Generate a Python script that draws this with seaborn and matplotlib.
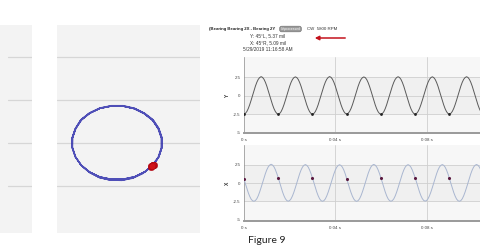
import numpy as np
import pandas as pd
import matplotlib
matplotlib.use("Agg")
import matplotlib.pyplot as plt
import seaborn as sns
from matplotlib.patches import FancyArrowPatch

# ---------------- data ----------------
title_main = "(Bearing Bearing 2X - Bearing 2Y"
pill_text = "Unprocessed"
rpm_text = "CW  5800 RPM"
info_lines = ["Y: 45°L, 5.37 mil", "X: 45°R, 5.09 mil", "5/29/2019 11:16:58 AM"]
x_ticks = [0.0, 0.04, 0.08]
x_tick_labels = ["0 s", "0.04 s", "0.08 s"]
y_ticks = [-5, -2.5, 0, 2.5]
y_tick_labels = ["-5", "-2.5", "0", "2.5"]
caption = "Figure 9"

period_s = 0.015          # one revolution (read from trough spacing)
samples_per_rev = 24

# Y probe waveform (mil), one revolution per row
y_wave = [
    -2.48, -2.40, -2.15, -1.75, -1.23, -0.63, 0.02, 0.67, 1.27, 1.79, 2.19, 2.43, 2.55, 2.45, 2.20, 1.79, 1.27, 0.66, 0.01, -0.64, -1.24, -1.76, -2.16, -2.41,
    -2.51, -2.42, -2.17, -1.76, -1.24, -0.64, 0.01, 0.66, 1.26, 1.78, 2.18, 2.42, 2.52, 2.43, 2.18, 1.77, 1.25, 0.64, -0.01, -0.66, -1.26, -1.78, -2.18, -2.42,
    -2.50, -2.41, -2.16, -1.75, -1.23, -0.62, 0.03, 0.68, 1.28, 1.80, 2.20, 2.44, 2.56, 2.46, 2.21, 1.80, 1.28, 0.67, 0.02, -0.63, -1.23, -1.75, -2.15, -2.40,
    -2.47, -2.39, -2.15, -1.76, -1.25, -0.65, 0.00, 0.65, 1.25, 1.77, 2.17, 2.41, 2.51, 2.42, 2.17, 1.76, 1.24, 0.64, -0.01, -0.66, -1.26, -1.78, -2.18, -2.43,
    -2.52, -2.43, -2.18, -1.77, -1.24, -0.63, 0.02, 0.67, 1.27, 1.79, 2.19, 2.43, 2.54, 2.44, 2.19, 1.78, 1.26, 0.65, 0.00, -0.65, -1.25, -1.77, -2.17, -2.42,
    -2.50, -2.41, -2.16, -1.76, -1.24, -0.64, 0.01, 0.66, 1.26, 1.78, 2.18, 2.42, 2.53, 2.43, 2.18, 1.77, 1.25, 0.64, -0.01, -0.66, -1.26, -1.78, -2.18, -2.42,
    -2.49, -2.40, -2.15, -1.75, -1.23, -0.63, 0.02, 0.67, 1.27, 1.79, 2.19, 2.43, 2.54, 2.44, 2.19, 1.78, 1.26, 0.65, 0.00, -0.65, -1.25, -1.77, -2.17,
]

# X probe waveform (mil), one revolution per row
x_wave = [
    0.50, -0.12, -0.75, -1.33, -1.83, -2.21, -2.43, -2.50, -2.40, -2.15, -1.74, -1.21, -0.61, 0.04, 0.69, 1.29, 1.81, 2.21, 2.45, 2.56, 2.46, 2.22, 1.82, 1.30,
    0.72, 0.06, -0.60, -1.21, -1.74, -2.15, -2.40, -2.49, -2.40, -2.16, -1.76, -1.24, -0.64, 0.01, 0.66, 1.26, 1.78, 2.18, 2.42, 2.52, 2.42, 2.18, 1.78, 1.27,
    0.68, 0.03, -0.63, -1.23, -1.75, -2.16, -2.41, -2.50, -2.42, -2.18, -1.78, -1.26, -0.66, -0.01, 0.64, 1.24, 1.76, 2.16, 2.40, 2.50, 2.40, 2.16, 1.76, 1.23,
    0.58, -0.07, -0.71, -1.30, -1.81, -2.20, -2.43, -2.51, -2.41, -2.16, -1.75, -1.22, -0.62, 0.03, 0.68, 1.28, 1.80, 2.20, 2.44, 2.54, 2.44, 2.20, 1.80, 1.28,
    0.70, 0.05, -0.61, -1.22, -1.75, -2.16, -2.41, -2.50, -2.41, -2.17, -1.77, -1.25, -0.65, 0.00, 0.65, 1.25, 1.77, 2.17, 2.41, 2.51, 2.41, 2.17, 1.77, 1.25,
    0.72, 0.07, -0.59, -1.20, -1.73, -2.14, -2.39, -2.48, -2.40, -2.16, -1.76, -1.24, -0.64, 0.01, 0.66, 1.26, 1.78, 2.18, 2.42, 2.52, 2.42, 2.17, 1.76, 1.24,
    0.62, -0.03, -0.68, -1.28, -1.79, -2.19, -2.42, -2.50, -2.41, -2.16, -1.75, -1.23, -0.63, 0.02, 0.67, 1.27, 1.79, 2.19, 2.43, 2.53, 2.43, 2.19, 1.79,
]

# ---------------- tables ----------------
n = len(y_wave)
time_s = np.arange(n) * (period_s / samples_per_rev)
wave = pd.DataFrame({"t": time_s, "Y": y_wave, "X": x_wave})
# orbit: probes mounted at 45° L / 45° R
wave["h"] = (wave["X"] - wave["Y"]) / np.sqrt(2)
wave["v"] = (wave["X"] + wave["Y"]) / np.sqrt(2)
kp = wave.iloc[::samples_per_rev].reset_index(drop=True)   # keyphasor marks

# ---------------- figure ----------------
sns.set_theme(style="white")
plt.rcParams["font.family"] = ["Liberation Sans", "DejaVu Sans"]

W, H = 480, 249
fig = plt.figure(figsize=(W / 100, H / 100), dpi=100)
fig.patch.set_facecolor("white")


def rect(x0, y0, x1, y1):
    return [x0 / W, 1 - y1 / H, (x1 - x0) / W, (y1 - y0) / H]


def fpos(x, y):
    return x / W, 1 - y / H


panel_bg = "#f3f3f3"
grid_c = "#d6d6d6"
orbit_grid = [-2.5, 0, 2.5, 5]

# left cropped panel
axl = fig.add_axes(rect(0, 25, 32, 233))
axl.set_facecolor(panel_bg)
axl.set_xlim(0, 1)
axl.set_ylim(-5.23, 6.86)
for g in orbit_grid:
    axl.axhline(g, xmin=0.25, xmax=1, color=grid_c, lw=0.9)
axl.set_xticks([]); axl.set_yticks([])
for s in axl.spines.values():
    s.set_visible(False)

# orbit panel
axo = fig.add_axes(rect(57, 25, 200, 233))
axo.set_facecolor(panel_bg)
axo.set_xlim(-3.75, 5.19)
axo.set_ylim(-5.23, 6.86)
for g in orbit_grid:
    axo.axhline(g, color=grid_c, lw=0.9, zorder=0)
sns.lineplot(data=wave, x="h", y="v", sort=False, estimator=None, ax=axo,
             color="#2626a8", lw=0.85, alpha=0.8)
sns.scatterplot(data=kp, x="h", y="v", ax=axo, color="#d0121a", s=22,
                marker="o", edgecolor="#a00010", linewidth=0.3, zorder=5)
axo.set_xticks([]); axo.set_yticks([])
axo.set_xlabel(""); axo.set_ylabel("")
for s in axo.spines.values():
    s.set_visible(False)


def style_wave_axes(ax, ylim):
    ax.set_facecolor("#f7f7f7")
    ax.axhspan(-2.5, 2.5, color="#f0f0f0", zorder=0, lw=0)
    ax.set_xlim(0, 0.1034)
    ax.set_ylim(*ylim)
    for g in [-2.5, 0, 2.5]:
        ax.axhline(g, color="#cfcfcf", lw=0.6, zorder=1)
    for g in x_ticks[1:]:
        ax.axvline(g, color="#cfcfcf", lw=0.6, zorder=1)
    ax.set_yticks(y_ticks)
    ax.set_yticklabels(y_tick_labels)
    ax.set_xticks(x_ticks)
    ax.set_xticklabels(x_tick_labels)
    ax.tick_params(axis="both", labelsize=3.2, colors="#444444", length=1.5,
                   width=0.4, pad=1)
    ax.tick_params(axis="x", pad=2)
    for sn in ["top", "right"]:
        ax.spines[sn].set_visible(False)
    ax.spines["left"].set_color("#8a8a8a")
    ax.spines["left"].set_linewidth(0.5)
    ax.spines["bottom"].set_color("#9a9a9a")
    ax.spines["bottom"].set_linewidth(1.4)
    ax.set_xlabel(""); ax.set_ylabel("")


# top waveform (Y)
axy = fig.add_axes(rect(244, 57, 480, 133))
style_wave_axes(axy, (-5.05, 5.2))
sns.lineplot(data=wave, x="t", y="Y", ax=axy, color="#5a5a5a", lw=0.7, zorder=3)
sns.scatterplot(data=kp, x="t", y="Y", ax=axy, color="#222222", s=4,
                linewidth=0, zorder=4)
axy.set_xlabel(""); axy.set_ylabel("")

# bottom waveform (X)
axx = fig.add_axes(rect(244, 145, 480, 221))
style_wave_axes(axx, (-5.2, 5.2))
sns.lineplot(data=wave, x="t", y="X", ax=axx, color="#a9b6d0", lw=0.7, zorder=3)
sns.scatterplot(data=kp, x="t", y="X", ax=axx, color="#5a1a40", s=5,
                linewidth=0, zorder=4)
axx.set_xlabel(""); axx.set_ylabel("")

# axis letters
fig.text(*fpos(227, 95.7), "Y", fontsize=3.6, fontweight="bold", color="#333333",
         ha="center", va="center", rotation=90)
fig.text(*fpos(227, 183), "X", fontsize=3.6, fontweight="bold", color="#333333",
         ha="center", va="center", rotation=90)

# header texts
fig.text(*fpos(209, 29), title_main, fontsize=3.1, fontweight="bold",
         color="#222222", ha="left", va="center")
fig.text(*fpos(290.5, 29), pill_text, fontsize=2.4, color="white",
         ha="center", va="center",
         bbox=dict(boxstyle="round,pad=0.25,rounding_size=0.6", fc="#9a9a9a",
                   ec="#6a6a6a", lw=0.4))
fig.text(*fpos(307, 29), rpm_text, fontsize=3.2, color="#333333",
         ha="left", va="center")
for i, line in enumerate(info_lines):
    fig.text(*fpos(268, 35.5 + 7 * i), line, fontsize=3.4, color="#333333",
             ha="center", va="center")

# red arrow
arrow = FancyArrowPatch(fpos(348, 38), fpos(312, 38), transform=fig.transFigure,
                        arrowstyle="-|>", mutation_scale=6, color="#c3121c",
                        lw=1.1)
fig.add_artist(arrow)

# caption
fig.text(*fpos(267, 240), caption, fontsize=7.5, color="#222222",
         family=["Lato", "DejaVu Sans"], ha="center", va="center")

fig.savefig("out.png", dpi=100, facecolor="white")
